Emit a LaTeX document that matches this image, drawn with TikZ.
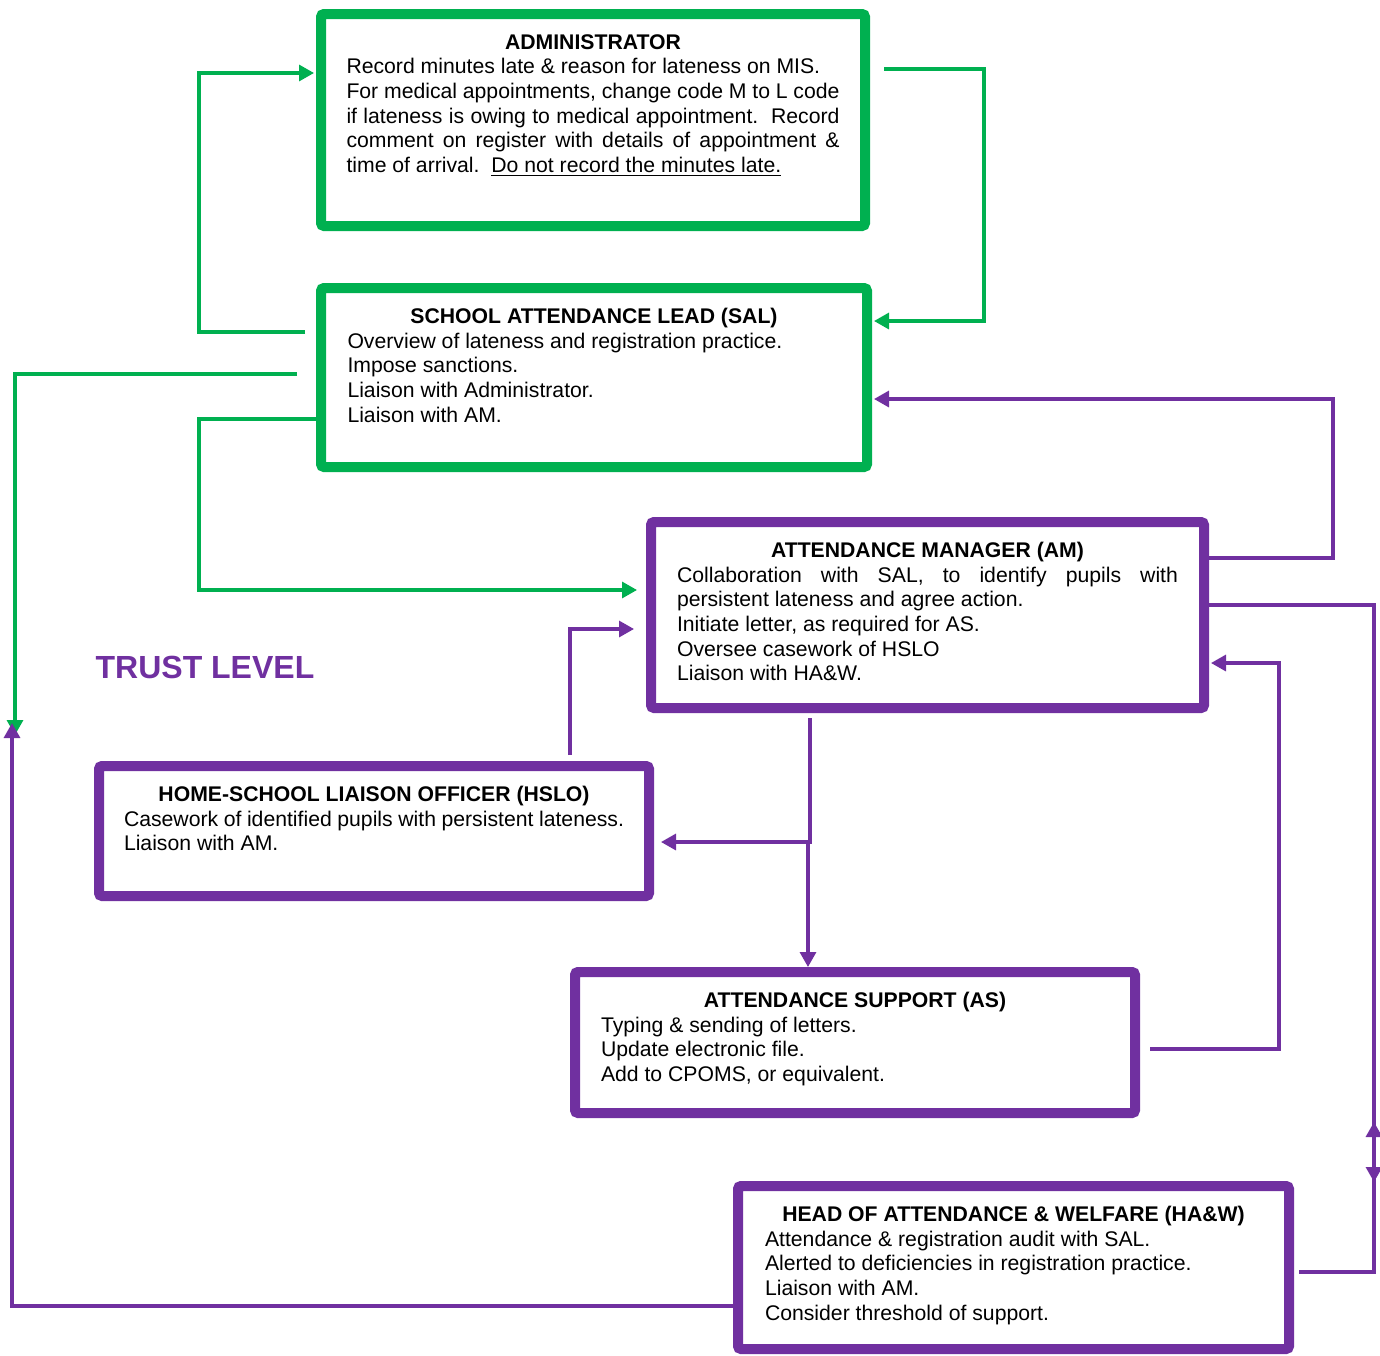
\documentclass[tikz,border=0pt]{standalone}
\usepackage{fontspec}
\setmainfont{Liberation Sans}
\usepackage{tikz}
\usetikzlibrary{arrows.meta}
\usepackage{xcolor}
\definecolor{schoolgreen}{HTML}{00B050}
\definecolor{trustpurple}{HTML}{7030A0}
\setlength{\parindent}{0pt}

\begin{document}
\begin{tikzpicture}[
  x=0.5pt,
  y=-0.5pt,
  line join=miter,
  rolebox/.style={draw,line width=5pt,rounded corners=1.5pt,inner sep=0pt},
  greenbox/.style={rolebox,draw=schoolgreen},
  purplebox/.style={rolebox,draw=trustpurple},
  roletext/.style={anchor=north,inner sep=0pt,align=justify,yshift=-12.5pt,
    font=\fontsize{10.6}{12.3}\selectfont},
  link/.style={line width=1.6pt,-{Triangle[length=7.5pt,width=8pt]}},
  greenlink/.style={link,schoolgreen},
  purplelink/.style={link,trustpurple}
]
  \useasboundingbox (0,0) rectangle (1380,1355);

  % School level roles
  \node[greenbox,minimum width=272pt,minimum height=106pt] (admin) at (593,120) {};
  \node[roletext,text width=246.5pt] (admintext) at (admin.north) {%
    \hfill\textbf{ADMINISTRATOR}\hfill\null\\
    Record minutes late \& reason for lateness on MIS.\\
    For medical appointments, change code M to L code\linebreak
    if lateness is owing to medical appointment.\ \ Record\linebreak
    comment on register with details of appointment \&\linebreak
    time of arrival.\ \ \underline{Do not record the minutes late.}};

  \node[greenbox,minimum width=273pt,minimum height=89.5pt] (sal) at (594,377.5) {};
  \node[roletext,text width=246.5pt] (saltext) at (sal.north) {%
    \hfill\textbf{SCHOOL ATTENDANCE LEAD (SAL)}\hfill\null\\
    Overview of lateness and registration practice.\\
    Impose sanctions.\\
    Liaison with Administrator.\\
    Liaison with AM.};

  % Trust level roles
  \node[purplebox,minimum width=276.5pt,minimum height=93pt] (am) at (927.5,615) {};
  \node[roletext,text width=250.5pt] (amtext) at (am.north) {%
    \hfill\textbf{ATTENDANCE MANAGER (AM)}\hfill\null\\
    Collaboration with SAL, to identify pupils with\linebreak
    persistent lateness and agree action.\\
    Initiate letter, as required for AS.\\
    Oversee casework of HSLO\\
    Liaison with HA\&W.};

  \node[purplebox,minimum width=275pt,minimum height=65pt] (hslo) at (374,831) {};
  \node[roletext,text width=250pt] (hslotext) at (hslo.north) {%
    \hfill\textbf{HOME-SCHOOL LIAISON OFFICER (HSLO)}\hfill\null\\
    Casework of identified pupils with persistent lateness.\\
    Liaison with AM.};

  \node[purplebox,minimum width=280pt,minimum height=70.5pt] (as) at (855,1042.5) {};
  \node[roletext,text width=254pt] (astext) at (as.north) {%
    \hfill\textbf{ATTENDANCE SUPPORT (AS)}\hfill\null\\
    Typing \& sending of letters.\\
    Update electronic file.\\
    Add to CPOMS, or equivalent.};

  \node[purplebox,minimum width=275.5pt,minimum height=81.5pt] (haw) at (1013.5,1267.5) {};
  \node[roletext,text width=248.5pt] (hawtext) at (haw.north) {%
    \hfill\textbf{HEAD OF ATTENDANCE \& WELFARE (HA\&W)}\hfill\null\\
    Attendance \& registration audit with SAL.\\
    Alerted to deficiencies in registration practice.\\
    Liaison with AM.\\
    Consider threshold of support.};

  \node[font=\fontsize{16}{19}\selectfont\bfseries,text=trustpurple]
    (trust) at (205,667) {TRUST LEVEL};

  % Free ends of the two long connectors on the left margin
  \coordinate (trustgreenend) at (15,735);
  \coordinate (trustpurpleend) at (12,723);

  % Green connectors from the school roles
  \draw[greenlink] ([xshift=-5.5pt,yshift=22.75pt]sal.west)
    -| ([xshift=-58.5pt,yshift=23.5pt]admin.west)
    -- ([xshift=-1pt,yshift=23.5pt]admin.west);
  \draw[greenlink] ([xshift=7pt,yshift=25.5pt]admin.east)
    -| ([xshift=56pt,yshift=28.25pt]sal.east)
    -- ([xshift=1pt,yshift=28.25pt]sal.east);
  \draw[greenlink] ([xshift=-9.5pt,yshift=1.75pt]sal.west) -| (trustgreenend);
  \draw[greenlink] ([yshift=-20.75pt]sal.west)
    -| ([xshift=-223.5pt,yshift=12.5pt]am.west)
    -- ([xshift=-4.5pt,yshift=12.5pt]am.west);

  % Purple connectors between the trust roles
  \draw[purplelink] ([yshift=28.5pt]am.east)
    -| ([xshift=230.5pt,yshift=-10.75pt]sal.east)
    -- ([xshift=1pt,yshift=-10.75pt]sal.east);
  \draw[purplelink] ([yshift=5pt]am.east) -| ([xshift=40pt,yshift=42.75pt]haw.east);
  \draw[purplelink] ([xshift=2.5pt,yshift=-2.25pt]haw.east)
    -| ([xshift=82.5pt,yshift=-253.5pt]am.east);
  \draw[purplelink] ([xshift=-58.75pt,yshift=-2.5pt]am.south)
    |- ([xshift=3.5pt,yshift=-5.5pt]hslo.east);
  \draw[purplelink] ([xshift=-59.75pt,yshift=-64.5pt]am.south)
    -- ([xshift=-23.5pt]as.north);
  \draw[purplelink] ([xshift=98pt,yshift=3pt]hslo.north)
    |- ([xshift=-6pt,yshift=-7pt]am.west);
  \draw[purplelink] ([xshift=5pt,yshift=-3.25pt]as.east)
    -| ([xshift=35pt,yshift=-24pt]am.east)
    -- ([xshift=1pt,yshift=-24pt]am.east);
  \draw[purplelink] ([yshift=-19.25pt]haw.west) -| (trustpurpleend);

\end{tikzpicture}
\end{document}
